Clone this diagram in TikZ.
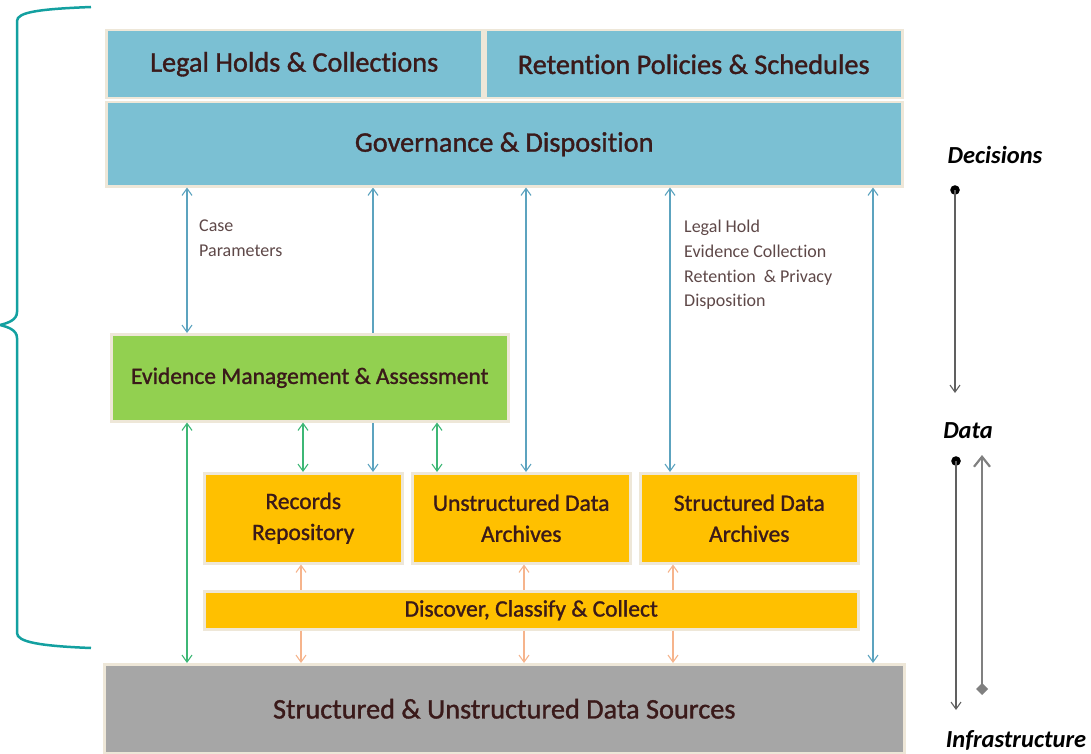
\documentclass[tikz,border=0pt]{standalone}
\usepackage{fontspec}
\setmainfont{Carlito}[Ligatures=NoCommon]
\newfontfamily\boxfont{Carlito}[Ligatures=NoCommon, FakeBold=1.2]
\usetikzlibrary{arrows.meta,shapes.geometric}
\pgfdeclarelayer{background}
\pgfsetlayers{background,main}
\definecolor{govblue}{HTML}{7BC0D3}
\definecolor{boxedge}{HTML}{EEE7D8}
\definecolor{evgreen}{HTML}{92D050}
\definecolor{repoyellow}{HTML}{FFC000}
\definecolor{srcgray}{HTML}{A6A6A6}
\definecolor{inktext}{HTML}{3A1A1A}
\definecolor{notetext}{HTML}{5E4848}
\definecolor{flowblue}{HTML}{5CA3BF}
\definecolor{flowgreen}{HTML}{3DB775}
\definecolor{floworange}{HTML}{F6B48C}
\definecolor{bracecol}{HTML}{13A0A0}
\definecolor{axisgray}{HTML}{606060}
\definecolor{axislight}{HTML}{808080}
\tikzset{
  flowtip/.tip={Straight Barb[length=7pt,width=10pt]},
  bigtip/.tip={Straight Barb[length=10pt,width=16pt]},
  basetip/.tip={Diamond[length=12pt,width=12pt]},
}
\begin{document}
\begin{tikzpicture}[x=1pt,y=-1pt,
  box/.style={draw=boxedge, line width=2.5pt, anchor=north west, inner sep=0pt,
    text=inktext, align=center},
  bigtext/.style={font=\boxfont\fontsize{28.3}{33}\selectfont},
  midtext/.style={font=\boxfont\fontsize{23.5}{31}\selectfont},
  note/.style={anchor=north west, align=left, inner sep=0pt, text=notetext,
    font=\fontsize{18}{24.7}\selectfont},
  axislabel/.style={font=\fontsize{24.5}{28}\selectfont\bfseries\itshape, text=black, inner sep=0pt},
  blueflow/.style={draw=flowblue, line width=1.1pt, flowtip-flowtip},
  greenflow/.style={draw=flowgreen, line width=1.1pt, flowtip-flowtip},
  orangeflow/.style={draw=floworange, line width=1.1pt},
  axisline/.style={draw=axisgray, line width=1.1pt},
]
\useasboundingbox (0,0) rectangle (1091,754);

% governance layer
\node (legal) [box, fill=govblue, bigtext, minimum width=376, minimum height=68] at (105,29) {Legal Holds \& Collections};
\node (retain) [box, fill=govblue, bigtext, minimum width=417, minimum height=68] at (484,29) {Retention Policies \& Schedules};
\node (gov) [box, fill=govblue, bigtext, minimum width=796, minimum height=84] at (105,101) {Governance \& Disposition};

% evidence and repositories
\node (evid) [box, fill=evgreen, midtext, minimum width=397, minimum height=87] at (110,333) {Evidence Management \& Assessment};
\node (recs) [box, fill=repoyellow, midtext, minimum width=198, minimum height=90] at (203,472) {Records\\Repository};
\node (unstr) [box, fill=repoyellow, midtext, minimum width=218, minimum height=90] at (411,472) {Unstructured Data\\Archives};
\node (struc) [box, fill=repoyellow, midtext, minimum width=218, minimum height=90] at (639,472) {Structured Data\\Archives};
\node (disc) [box, fill=repoyellow, midtext, minimum width=654, minimum height=38] at (203,590) {Discover, Classify \& Collect};
\node (src) [box, fill=srcgray, bigtext, minimum width=800, minimum height=89] at (103,663) {Structured \& Unstructured Data Sources};

% x positions of the vertical connectors
\coordinate (xa) at (187,0);
\coordinate (xb) at (303,0);
\coordinate (xc) at (373,0);
\coordinate (xd) at (437,0);
\coordinate (xe) at (526,0);
\coordinate (xf) at (670,0);
\coordinate (xg) at (873,0);
\coordinate (oa) at (301,0);
\coordinate (ob) at (524,0);
\coordinate (oc) at (673,0);

% governance flows
\draw[blueflow] (gov.south -| xa) -- (evid.north -| xa);
\begin{pgfonlayer}{background}
\draw[blueflow] (gov.south -| xc) -- (recs.north -| xc);
\end{pgfonlayer}
\draw[blueflow] (gov.south -| xe) -- (unstr.north -| xe);
\draw[blueflow] (gov.south -| xf) -- (struc.north -| xf);
\draw[blueflow] (gov.south -| xg) -- (src.north -| xg);

% evidence flows
\draw[greenflow] (evid.south -| xa) -- (src.north -| xa);
\draw[greenflow] (evid.south -| xb) -- (recs.north -| xb);
\draw[greenflow] (evid.south -| xd) -- (unstr.north -| xd);

% discovery flows
\draw[orangeflow, flowtip-] (recs.south -| oa) -- (disc.north -| oa);
\draw[orangeflow, flowtip-] (unstr.south -| ob) -- (disc.north -| ob);
\draw[orangeflow, flowtip-] (struc.south -| oc) -- (disc.north -| oc);
\draw[orangeflow, -flowtip] (disc.south -| oa) -- (src.north -| oa);
\draw[orangeflow, -flowtip] (disc.south -| ob) -- (src.north -| ob);
\draw[orangeflow, -flowtip] (disc.south -| oc) -- (src.north -| oc);

% flow notes
\node (casenote) [note] at (199,220) {Case\\Parameters};
\node (holdnote) [note] at (684,220) {Legal Hold\\Evidence Collection\\Retention \ \&~Privacy\\Disposition};

% layer axis on the right
\node (decisions) [axislabel] at (995,155) {Decisions};
\node (data) [axislabel] at (968,431) {Data};
\node (infra) [axislabel] at (1016,740) {Infrastructure};
\coordinate (d0) at (955,190);
\coordinate (d1) at (955,393);
\coordinate (e0) at (956,461);
\coordinate (e1) at (956,710);
\coordinate (u0) at (982,695);
\coordinate (u1) at (982,455);
\fill[black] (d0) circle (4.8);
\draw[axisline, -flowtip] (d0) -- (d1);
\fill[black] (e0) circle (4.8);
\draw[axisline, -flowtip] (e0) -- (e1);
\draw[draw=axislight, fill=axislight, line width=2.2pt, basetip-bigtip] (u0) -- (u1);

% brace over the decision layers
\draw[bracecol, line width=2.5pt]
  (91,7) .. controls (40,9) and (17,12) .. (17,21)
  -- (17,312) .. controls (17,320) and (8,323) .. (0,325)
  .. controls (8,327) and (17,330) .. (17,338)
  -- (17,633) .. controls (17,642) and (40,646) .. (91,648);
\end{tikzpicture}
\end{document}
